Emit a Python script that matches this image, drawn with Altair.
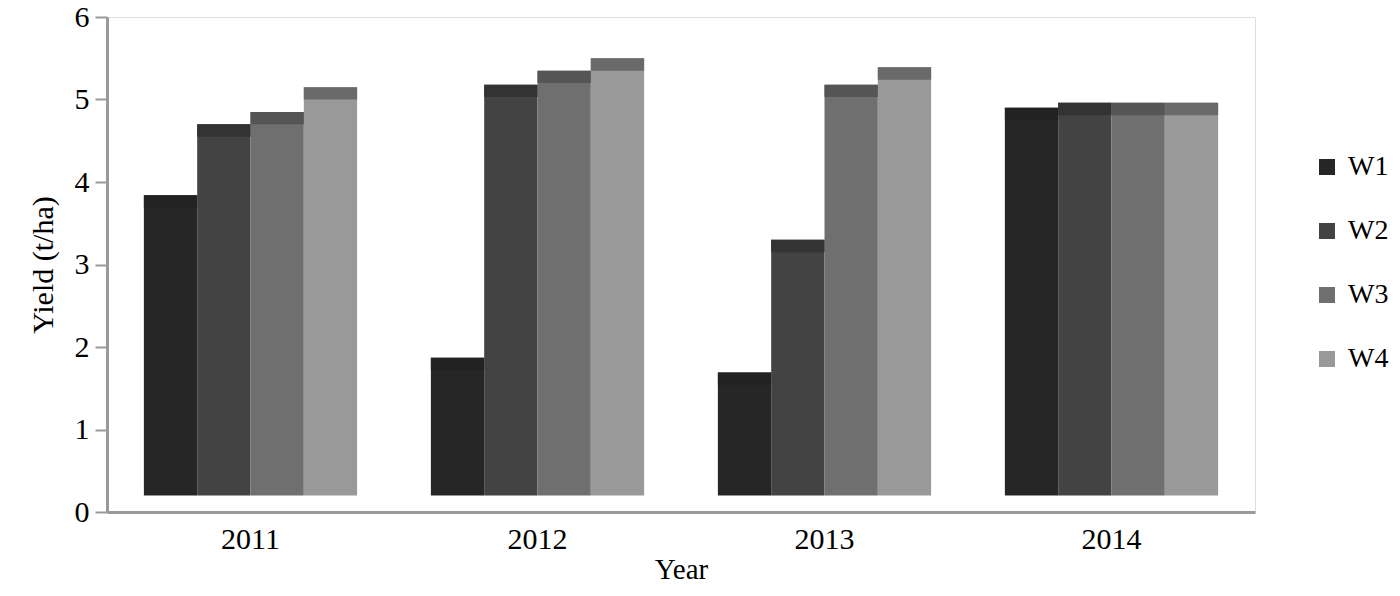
import altair as alt
import pandas as pd

years = ["2011", "2012", "2013", "2014"]
series = ["W1", "W2", "W3", "W4"]
w1 = [3.84, 1.87, 1.69, 4.90]
w2 = [4.70, 5.18, 3.30, 4.96]
w3 = [4.85, 5.35, 5.18, 4.96]
w4 = [5.15, 5.50, 5.39, 4.96]
body_colors = ["#262626", "#434343", "#6f6f6f", "#999999"]
cap_colors = ["#222222", "#333333", "#555555", "#6a6a6a"]
floor_value = 0.2
cap_depth = 0.15

rows = []
for vals, s, cc in zip([w1, w2, w3, w4], series, cap_colors):
    for y, v in zip(years, vals):
        rows.append({"Year": y, "Series": s, "Yield": v, "cap": cc})
df = pd.DataFrame(rows)

FONT = "'Liberation Serif', 'Times New Roman', Times, serif"

base = alt.Chart(df).transform_calculate(
    floor=str(floor_value), capstart=f"datum.Yield - {cap_depth}"
)

x_enc = alt.X(
    "Year:N",
    sort=years,
    title="Year",
    scale=alt.Scale(paddingInner=0.257, paddingOuter=0.1285),
    axis=alt.Axis(
        labelAngle=0,
        ticks=False,
        labelPadding=12,
        labelFontSize=30,
        titleFontSize=29,
        titlePadding=1,
        labelFont=FONT,
        titleFont=FONT,
        labelColor="#000000",
        titleColor="#000000",
        titleFontWeight="normal",
        domainColor="#999999",
        domainWidth=3,
    ),
)

y_scale = alt.Scale(domain=[0, 6], nice=False)

body = base.mark_bar(opacity=1).encode(
    x=x_enc,
    xOffset=alt.XOffset("Series:N", sort=series),
    y=alt.Y(
        "floor:Q",
        scale=y_scale,
        title="Yield (t/ha)",
        axis=alt.Axis(
            values=[0, 1, 2, 3, 4, 5, 6],
            format="d",
            grid=False,
            tickSize=12,
            tickWidth=2,
            tickColor="#999999",
            labelPadding=6,
            labelFontSize=30,
            titleFontSize=30,
            titlePadding=16,
            labelFont=FONT,
            titleFont=FONT,
            labelColor="#000000",
            titleColor="#000000",
            titleFontWeight="normal",
            domainColor="#999999",
            domainWidth=3,
        ),
    ),
    y2="Yield:Q",
    color=alt.Color(
        "Series:N",
        sort=series,
        scale=alt.Scale(domain=series, range=body_colors),
        legend=alt.Legend(
            title=None,
            orient="none",
            legendX=1206,
            legendY=136,
            symbolType="square",
            symbolSize=256,
            symbolStrokeWidth=0,
            symbolOpacity=1,
            labelFont=FONT,
            labelFontSize=28,
            labelColor="#000000",
            labelOffset=7,
            rowPadding=36,
            padding=0,
        ),
    ),
)

cap = base.mark_bar(opacity=1).encode(
    x=alt.X("Year:N", sort=years),
    xOffset=alt.XOffset("Series:N", sort=series),
    y=alt.Y("capstart:Q", scale=y_scale),
    y2="Yield:Q",
    color=alt.Color("cap:N", scale=None),
)

chart = (
    alt.layer(body, cap)
    .properties(
        width=1148,
        height=495,
        autosize=alt.AutoSizeParams(type="none"),
        padding={"left": 99, "top": 9, "right": 137, "bottom": 70},
    )
    .configure_view(stroke="transparent", strokeWidth=0)
    .configure(background="white")
)

chart.save("out.html", embed_options={"renderer": "svg", "actions": False})
